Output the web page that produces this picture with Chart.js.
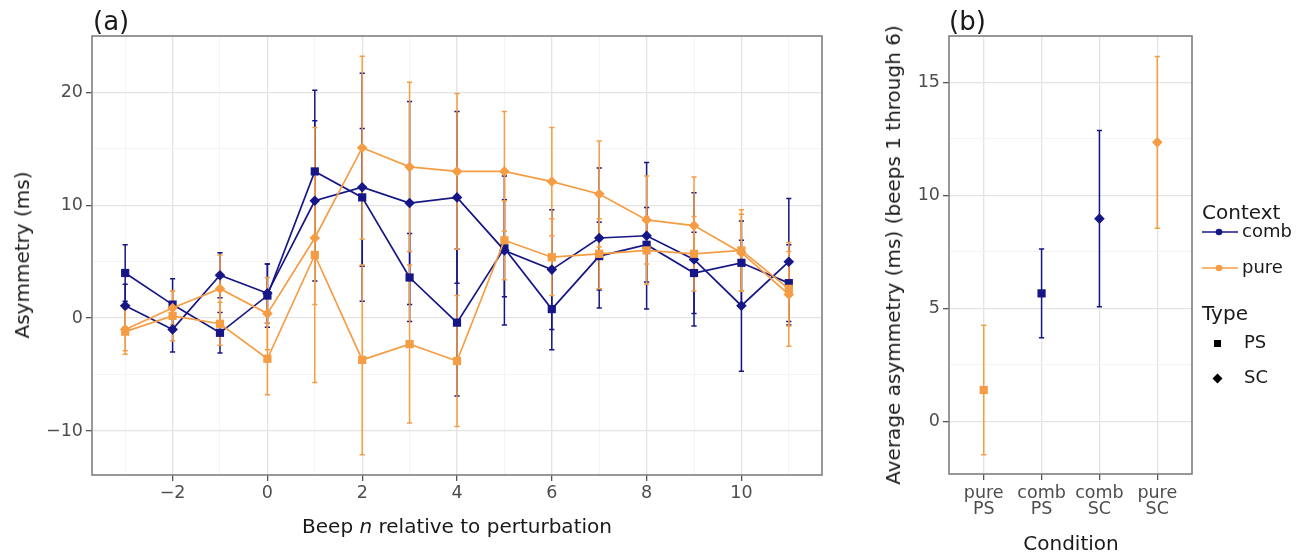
<!DOCTYPE html>
<html>
<head>
<meta charset="utf-8">
<script src="https://cdn.jsdelivr.net/npm/chart.js@4.4.1/dist/chart.umd.min.js"></script>
<style>
  html, body { margin: 0; padding: 0; background: #ffffff; }
  #wrap { position: relative; width: 1309px; height: 555px; overflow: hidden; font-family: "DejaVu Sans", sans-serif; }
  canvas { position: absolute; top: 0; }
  .txt { position: absolute; white-space: nowrap; color: #1a1a1a; line-height: 1; }
  .rot { transform-origin: center center; transform: translate(-50%, -50%) rotate(-90deg); }
  .ctr { transform: translate(-50%, -50%); }
  .lft { transform: translateY(-50%); }
</style>
</head>
<body>
<div id="wrap">
  <canvas id="cA" width="830" height="555" style="left:0px"></canvas>
  <canvas id="cB" width="459" height="555" style="left:850px"></canvas>

  <div class="txt" style="left:93px; top:21px; font-size:26px; transform: translateY(-50%);">(a)</div>
  <div class="txt" style="left:949px; top:21px; font-size:26px; transform: translateY(-50%);">(b)</div>

  <div class="txt rot" style="left:22px; top:255px; font-size:20px;">Asymmetry (ms)</div>
  <div class="txt ctr" style="left:457px; top:526px; font-size:20px;">Beep <i>n</i> relative to perturbation</div>

  <div class="txt rot" style="left:893px; top:255px; font-size:20px;">Average asymmetry (ms) (beeps 1 through 6)</div>
  <div class="txt ctr" style="left:1071px; top:543px; font-size:20px;">Condition</div>

  <div id="legend"></div>
</div>

<script>
// ---------------- DATA ----------------
const beeps = [-3, -2, -1, 0, 1, 2, 3, 4, 5, 6, 7, 8, 9, 10, 11];

const combPS    = [4.0, 1.2, -1.3, 2.0, 13.0, 10.7, 3.6, -0.4, 6.2, 0.8, 5.5, 6.5, 4.0, 4.9, 3.1];
const combPSerr = [2.5, 2.3, 1.8, 2.8, 7.2, 6.1, 3.9, 6.5, 4.3, 3.6, 3.0, 3.3, 3.6, 3.7, 3.4];
const combSC    = [1.1, -1.0, 3.8, 2.2, 10.4, 11.6, 10.2, 10.7, 6.0, 4.3, 7.1, 7.3, 5.2, 1.1, 5.0];
const combSCerr = [1.9, 2.0, 2.0, 2.6, 7.1, 10.1, 9.0, 7.6, 6.6, 5.3, 6.2, 6.5, 5.9, 5.8, 5.6];
const purePS    = [-1.2, 0.2, -0.5, -3.6, 5.6, -3.7, -2.3, -3.8, 6.9, 5.4, 5.7, 6.0, 5.7, 6.0, 2.6];
const purePSerr = [2.0, 2.2, 1.9, 3.2, 11.3, 8.4, 7.0, 5.8, 3.5, 3.4, 3.1, 3.0, 3.3, 3.6, 3.3];
const pureSC    = [-1.0, 0.9, 2.6, 0.4, 7.1, 15.1, 13.4, 13.0, 13.0, 12.1, 11.0, 8.7, 8.2, 5.8, 2.1];
const pureSCerr = [1.9, 1.5, 3.0, 3.2, 5.9, 8.1, 7.5, 6.9, 5.3, 4.8, 4.7, 3.9, 4.3, 3.4, 4.6];

const yTicksA = [-10, -5, 0, 5, 10, 15, 20];
const xTicksA = [-3, -2, -1, 0, 1, 2, 3, 4, 5, 6, 7, 8, 9, 10, 11];

const condLabels  = [["pure", "PS"], ["comb", "PS"], ["comb", "SC"], ["pure", "SC"]];
const condContext = ["pure", "comb", "comb", "pure"];
const condType    = ["PS", "PS", "SC", "SC"];
const avgVals     = [1.38, 5.66, 8.97, 12.35];
const avgErr      = [2.87, 1.97, 3.90, 3.80];
const yTicksB     = [0, 2.5, 5, 7.5, 10, 12.5, 15];

const contextNames = ["comb", "pure"];
const typeNames = ["PS", "SC"];

// ---------------- STYLE ----------------
const COL = { comb: "#161686", pure: "#f59d44" };
const SHAPE = { PS: "rect", SC: "rectRot" };
const RAD = { PS: 5.8, SC: 5.3 };
const GRID_MAJOR = "#e4e4e4";
const GRID_MINOR = "#f1f1f1";
const TICK_COL = "#4d4d4d";
const FONT = "DejaVu Sans";

// error bar + panel border plugin
const errPlugin = {
  id: "errbars",
  beforeDatasetsDraw(chart) {
    const ctx = chart.ctx;
    const ys = chart.scales.y;
    const n = chart.data.datasets.length;
    for (let d = n - 1; d >= 0; d--) {
      const ds = chart.data.datasets[d];
      if (!ds.errors) continue;
      const meta = chart.getDatasetMeta(d);
      meta.data.forEach((el, i) => {
        const v = ds.data[i].y;
        const e = ds.errors[i];
        const x = el.x;
        const y1 = ys.getPixelForValue(v + e);
        const y2 = ys.getPixelForValue(v - e);
        const c = Array.isArray(ds.borderColor) ? ds.borderColor[i] : ds.borderColor;
        ctx.save();
        ctx.strokeStyle = c;
        ctx.lineWidth = 1.5;
        ctx.beginPath();
        ctx.moveTo(x, y1); ctx.lineTo(x, y2);
        ctx.moveTo(x - 2.6, y1); ctx.lineTo(x + 2.6, y1);
        ctx.moveTo(x - 2.6, y2); ctx.lineTo(x + 2.6, y2);
        ctx.stroke();
        ctx.restore();
      });
    }
  },
  afterDraw(chart) {
    const a = chart.chartArea;
    const ctx = chart.ctx;
    ctx.save();
    ctx.strokeStyle = "#7f7f7f";
    ctx.lineWidth = 1.6;
    ctx.strokeRect(a.left, a.top, a.right - a.left, a.bottom - a.top);
    ctx.restore();
  }
};

Chart.defaults.font.family = FONT;
Chart.defaults.animation = false;

function lineDS(label, ctxName, typeName, vals, errs) {
  return {
    label: label,
    data: beeps.map((b, i) => ({ x: b, y: vals[i] })),
    errors: errs,
    borderColor: COL[ctxName],
    backgroundColor: COL[ctxName],
    pointBackgroundColor: COL[ctxName],
    pointBorderColor: COL[ctxName],
    pointBorderWidth: 0,
    pointStyle: SHAPE[typeName],
    pointRadius: RAD[typeName],
    borderWidth: 1.7,
    showLine: true,
    tension: 0,
    fill: false
  };
}

// ---------------- PANEL A ----------------
new Chart(document.getElementById("cA"), {
  type: "scatter",
  data: {
    datasets: [
      lineDS("pure SC", "pure", "SC", pureSC, pureSCerr),
      lineDS("pure PS", "pure", "PS", purePS, purePSerr),
      lineDS("comb SC", "comb", "SC", combSC, combSCerr),
      lineDS("comb PS", "comb", "PS", combPS, combPSerr)
    ]
  },
  options: {
    responsive: false,
    devicePixelRatio: 1,
    layout: { padding: { top: 36, right: 8, left: 0, bottom: 0 } },
    plugins: { legend: { display: false }, tooltip: { enabled: false } },
    scales: {
      x: {
        type: "linear",
        min: -3.7, max: 11.7,
        afterBuildTicks: s => { s.ticks = xTicksA.map(v => ({ value: v })); },
        afterFit: s => { s.height = 80; },
        ticks: {
          autoSkip: false, maxRotation: 0, padding: 2,
          color: TICK_COL, font: { size: 17.5 },
          callback: v => (v % 2 === 0 ? (v < 0 ? "\u2212" + Math.abs(v) : String(v)) : "")
        },
        grid: {
          color: c => (c.tick && c.tick.value % 2 === 0 ? GRID_MAJOR : GRID_MINOR),
          lineWidth: c => (c.tick && c.tick.value % 2 === 0 ? 1.3 : 0.8),
          tickColor: c => (c.tick && c.tick.value % 2 === 0 ? "#555555" : "rgba(0,0,0,0)"),
          tickLength: 6, tickWidth: 1.3
        },
        border: { display: false }
      },
      y: {
        type: "linear",
        min: -13.9, max: 25.0,
        afterBuildTicks: s => { s.ticks = yTicksA.map(v => ({ value: v })); },
        afterFit: s => { s.width = 92; },
        ticks: {
          autoSkip: false, padding: 3,
          color: TICK_COL, font: { size: 17.5 },
          callback: v => (v % 10 === 0 ? (v < 0 ? "\u2212" + Math.abs(v) : String(v)) : "")
        },
        grid: {
          color: c => (c.tick && c.tick.value % 10 === 0 ? GRID_MAJOR : GRID_MINOR),
          lineWidth: c => (c.tick && c.tick.value % 10 === 0 ? 1.3 : 0.8),
          tickColor: c => (c.tick && c.tick.value % 10 === 0 ? "#555555" : "rgba(0,0,0,0)"),
          tickLength: 6, tickWidth: 1.3
        },
        border: { display: false }
      }
    }
  },
  plugins: [errPlugin]
});

// ---------------- PANEL B ----------------
new Chart(document.getElementById("cB"), {
  type: "scatter",
  data: {
    datasets: [{
      label: "average",
      data: avgVals.map((v, i) => ({ x: i, y: v })),
      errors: avgErr,
      borderColor: condContext.map(c => COL[c]),
      pointBackgroundColor: condContext.map(c => COL[c]),
      pointBorderColor: condContext.map(c => COL[c]),
      pointBorderWidth: 0,
      pointStyle: condType.map(t => SHAPE[t]),
      pointRadius: condType.map(t => RAD[t]),
      showLine: false
    }]
  },
  options: {
    responsive: false,
    devicePixelRatio: 1,
    layout: { padding: { top: 36, right: 117, left: 0, bottom: 0 } },
    plugins: { legend: { display: false }, tooltip: { enabled: false } },
    scales: {
      x: {
        type: "linear",
        min: -0.6, max: 3.6,
        afterBuildTicks: s => { s.ticks = condLabels.map((l, i) => ({ value: i })); },
        afterFit: s => { s.height = 81; },
        ticks: {
          autoSkip: false, maxRotation: 0, padding: 5,
          color: TICK_COL, font: { size: 17.5, lineHeight: 0.92 },
          callback: v => condLabels[v]
        },
        grid: { color: GRID_MAJOR, lineWidth: 1.3, tickColor: "#555555", tickLength: 6, tickWidth: 1.3 },
        border: { display: false }
      },
      y: {
        type: "linear",
        min: -2.34, max: 17.06,
        afterBuildTicks: s => { s.ticks = yTicksB.map(v => ({ value: v })); },
        afterFit: s => { s.width = 99; },
        ticks: {
          autoSkip: false, padding: 3,
          color: TICK_COL, font: { size: 17.5 },
          callback: v => (v % 5 === 0 ? String(v) : "")
        },
        grid: {
          color: c => (c.tick && c.tick.value % 5 === 0 ? GRID_MAJOR : GRID_MINOR),
          lineWidth: c => (c.tick && c.tick.value % 5 === 0 ? 1.3 : 0.8),
          tickColor: c => (c.tick && c.tick.value % 5 === 0 ? "#555555" : "rgba(0,0,0,0)"),
          tickLength: 6, tickWidth: 1.3
        },
        border: { display: false }
      }
    }
  },
  plugins: [errPlugin]
});

// ---------------- LEGEND (HTML) ----------------
(function () {
  const L = document.getElementById("legend");
  let html = "";
  html += '<div class="txt lft" style="left:1202px; top:212px; font-size:20px;">Context</div>';
  contextNames.forEach((c, i) => {
    const y = 232 + i * 36;
    html += '<svg style="position:absolute; left:1200px; top:' + (y - 6) + 'px;" width="40" height="12">' +
      '<line x1="2" y1="6" x2="38" y2="6" stroke="' + COL[c] + '" stroke-width="1.6"/>' +
      '<circle cx="19" cy="6" r="3.3" fill="' + COL[c] + '"/></svg>';
    html += '<div class="txt lft" style="left:1242px; top:' + (y - 1) + 'px; font-size:18px;">' + c + '</div>';
  });
  html += '<div class="txt lft" style="left:1202px; top:313px; font-size:20px;">Type</div>';
  typeNames.forEach((t, i) => {
    const y = 343 + i * 35;
    const shape = t === "PS"
      ? '<rect x="3" y="3" width="7" height="7" fill="#000"/>'
      : '<polygon points="6.5,1.5 11.5,6.5 6.5,11.5 1.5,6.5" fill="#000"/>';
    html += '<svg style="position:absolute; left:' + (1217 - 6.5) + 'px; top:' + (y - 6.5) + 'px;" width="13" height="13">' + shape + '</svg>';
    html += '<div class="txt lft" style="left:1244px; top:' + (y - 1) + 'px; font-size:18px;">' + t + '</div>';
  });
  L.innerHTML = html;
})();
</script>
</body>
</html>
